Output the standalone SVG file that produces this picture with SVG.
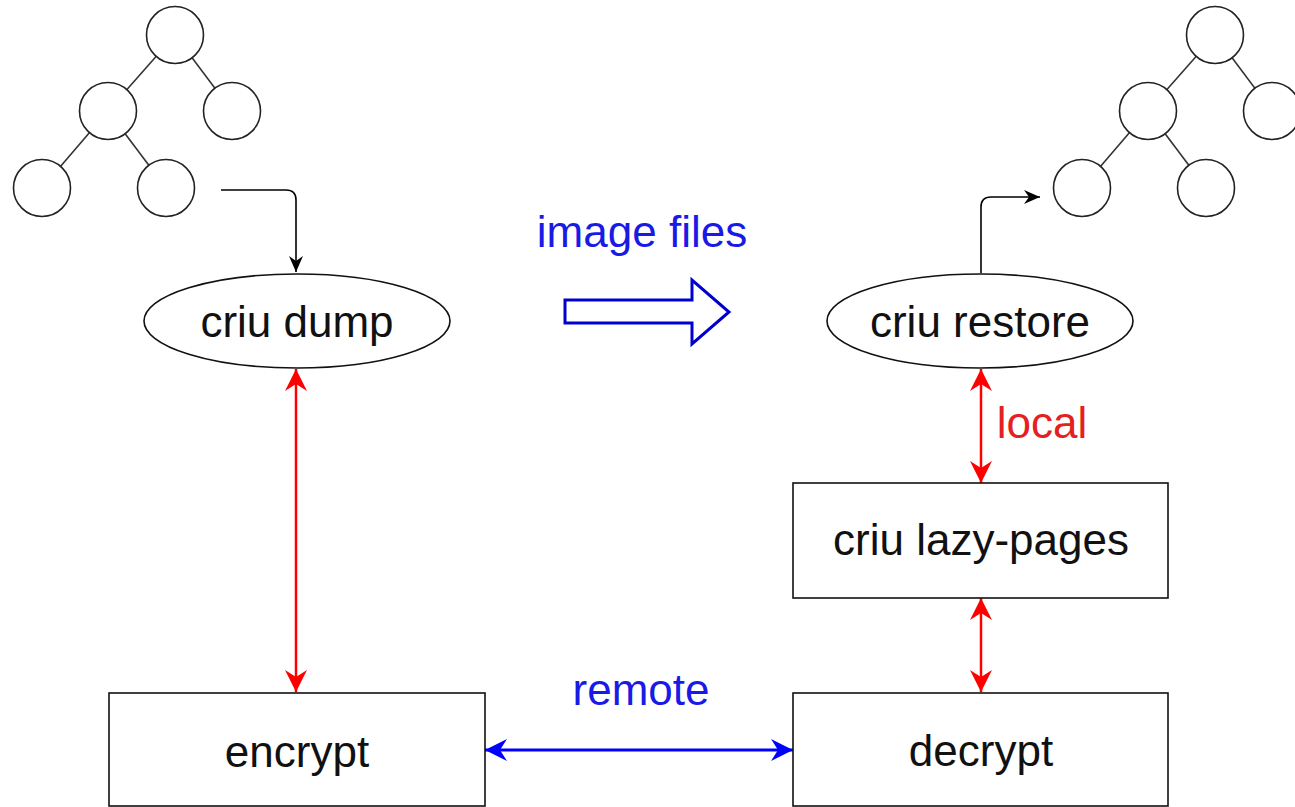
<svg xmlns="http://www.w3.org/2000/svg" width="1295" height="807" viewBox="0 0 1295 807">
<style>
.bg{fill:#ffffff}
.circ{fill:#ffffff;stroke:#222;stroke-width:1.6}
.edge{stroke:#333;stroke-width:1.6;fill:none}
.shape{fill:#ffffff;stroke:#111;stroke-width:1.6}
.lbl{font-family:"Liberation Sans",Arial,sans-serif;font-size:44px;text-anchor:middle;fill:#111}
.blue{fill:#1a1ae6}
.red{fill:#e52020}
.red-line{stroke:#ff0000;stroke-width:2.5;fill:none}
.blue-line{stroke:#0000ff;stroke-width:3;fill:none}
.black-line{stroke:#000;stroke-width:1.6;fill:none}
</style>
<defs>
<marker id="redHead" viewBox="0 0 22 22" refX="22" refY="11" markerWidth="22" markerHeight="22" markerUnits="userSpaceOnUse" orient="auto-start-reverse">
<path d="M0,0 L22,11 L0,22 L7,11 Z" fill="#ff0000"/>
</marker>
<marker id="blueHead" viewBox="0 0 22 22" refX="22" refY="11" markerWidth="22" markerHeight="22" markerUnits="userSpaceOnUse" orient="auto-start-reverse">
<path d="M0,0 L22,11 L0,22 L7,11 Z" fill="#0000ff"/>
</marker>
<marker id="blackHead" viewBox="0 0 16 16" refX="16" refY="8" markerWidth="16" markerHeight="16" markerUnits="userSpaceOnUse" orient="auto">
<path d="M0,1 L16,8 L0,15 L5,8 Z" fill="#000"/>
</marker>
</defs>
<rect class="bg" x="0" y="0" width="1295" height="807"/>

<g id="tree-left">
<line class="edge" x1="175" y1="35" x2="108" y2="111"/>
<line class="edge" x1="175" y1="35" x2="232" y2="111"/>
<line class="edge" x1="108" y1="111" x2="42" y2="188"/>
<line class="edge" x1="108" y1="111" x2="166" y2="188"/>
<circle class="circ" cx="175" cy="35" r="28.5"/>
<circle class="circ" cx="108" cy="111" r="28.5"/>
<circle class="circ" cx="232" cy="111" r="28.5"/>
<circle class="circ" cx="42" cy="188" r="28.5"/>
<circle class="circ" cx="166" cy="188" r="28.5"/>
</g>

<g id="tree-right">
<line class="edge" x1="1215" y1="35" x2="1148" y2="111"/>
<line class="edge" x1="1215" y1="35" x2="1272" y2="111"/>
<line class="edge" x1="1148" y1="111" x2="1082" y2="188"/>
<line class="edge" x1="1148" y1="111" x2="1206" y2="188"/>
<circle class="circ" cx="1215" cy="35" r="28.5"/>
<circle class="circ" cx="1148" cy="111" r="28.5"/>
<circle class="circ" cx="1272" cy="111" r="28.5"/>
<circle class="circ" cx="1082" cy="188" r="28.5"/>
<circle class="circ" cx="1206" cy="188" r="28.5"/>
</g>

<g id="connectors">
<path class="black-line" d="M221,190 H286 Q296,190 296,200 V272" marker-end="url(#blackHead)"/>
<path class="black-line" d="M981,273 V207 Q981,197 991,197 H1040" marker-end="url(#blackHead)"/>
<line class="red-line" x1="296" y1="369" x2="296" y2="692" marker-start="url(#redHead)" marker-end="url(#redHead)"/>
<line class="red-line" x1="981" y1="369" x2="981" y2="483" marker-start="url(#redHead)" marker-end="url(#redHead)"/>
<line class="red-line" x1="981" y1="598" x2="981" y2="692" marker-start="url(#redHead)" marker-end="url(#redHead)"/>
<line class="blue-line" x1="485" y1="750" x2="793" y2="750" marker-start="url(#blueHead)" marker-end="url(#blueHead)"/>
</g>

<g id="image-files">
<polygon points="565,300 692,300 692,280 729,312 692,344 692,323 565,323" fill="#ffffff" stroke="#0000cc" stroke-width="3" stroke-linejoin="miter"/>
<text class="lbl blue" x="642" y="247">image files</text>
</g>

<g id="criu-dump">
<ellipse class="shape" cx="297" cy="321" rx="153" ry="47"/>
<text class="lbl" x="297" y="337">criu dump</text>
</g>

<g id="criu-restore">
<ellipse class="shape" cx="980" cy="321" rx="153" ry="47"/>
<text class="lbl" x="980" y="337">criu restore</text>
</g>

<g id="local-label">
<text class="lbl red" x="1042" y="438">local</text>
</g>

<g id="criu-lazy-pages">
<rect class="shape" x="793" y="483" width="375" height="115"/>
<text class="lbl" x="981" y="555">criu lazy-pages</text>
</g>

<g id="encrypt">
<rect class="shape" x="109" y="693" width="376" height="113"/>
<text class="lbl" x="297" y="767">encrypt</text>
</g>

<g id="decrypt">
<rect class="shape" x="793" y="693" width="375" height="113"/>
<text class="lbl" x="981" y="766">decrypt</text>
</g>

<g id="remote-label">
<text class="lbl blue" x="641" y="705">remote</text>
</g>
</svg>
